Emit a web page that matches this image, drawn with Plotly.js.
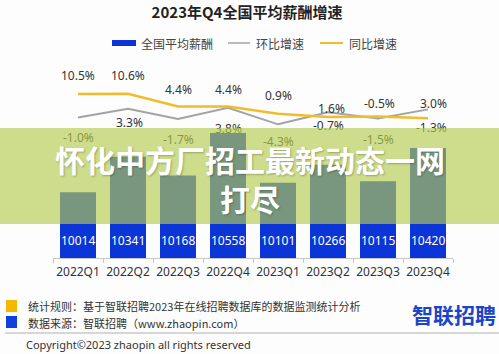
<!DOCTYPE html>
<html>
<head>
<meta charset="utf-8">
<script src="https://cdn.plot.ly/plotly-3.0.1.min.js"></script>
<style>html,body{margin:0;padding:0;background:#fdfdfd}#chart{width:499px;height:354px}</style>
</head>
<body>
<div id="chart"></div>
<script>
// ---- data ----
const categories = ['2022Q1','2022Q2','2022Q3','2022Q4','2023Q1','2023Q2','2023Q3','2023Q4'];
const salary = [10014, 10341, 10168, 10558, 10101, 10266, 10115, 10420];
const qoq = [-1.0, 3.3, -1.7, 3.8, -4.3, 1.6, -1.5, 3.0];   // 环比增速
const yoy = [10.5, 10.6, 4.4, 4.4, 0.9, -0.7, -0.5, -1.3];  // 同比增速
const seriesNames = ['全国平均薪酬', '环比增速', '同比增速'];
const titleText = '2023年Q4全国平均薪酬增速';
const overlayText = '怀化中方厂招工最新动态一网<br>打尽';
const footNote1 = '统计规则：基于智联招聘2023年在线招聘数据库的数据监测统计分析';
const footNote2 = '数据来源：智联招聘（www.zhaopin.com）';
const logoText = '智联招聘';
const copyrightText = 'Copyright©2023 zhaopin all rights reserved';

// ---- label placement styles (pixel shifts) ----
const yoyShift = [18, 18, 17, 17, 18, -9, 13, -9.5];
const yoyXShift = [0, 0, 0, 0, 0, 0, 1, 3];
const qoqShift = [-20, -13.5, -20, -20.5, -17.5, 4, -20.5, 6];
const qoqXShift = [0, 1, 0, 0, 0, 3, 0, 5];

const L = 53, T = 75, PW = 400, PH = 183;
const px = p => (p - L) / PW;
const py = p => (T + PH - p) / PH;

const numFont = "'Noto Sans', 'Noto Sans CJK SC', sans-serif";
const cjkFont = "'Noto Sans CJK SC', 'Noto Sans', sans-serif";
const fmt = v => v.toFixed(1) + '%';

const data = [
  {type: 'bar', x: categories, y: salary, name: seriesNames[0],
   marker: {color: '#0b35d6'}, hoverinfo: 'skip'},
  {type: 'scatter', mode: 'lines', x: categories, y: qoq, yaxis: 'y2', name: seriesNames[1],
   line: {color: '#a3a3a3', width: 2}, hoverinfo: 'skip'},
  {type: 'scatter', mode: 'lines', x: categories, y: yoy, yaxis: 'y2', name: seriesNames[2],
   line: {color: '#efbd2b', width: 2.5}, hoverinfo: 'skip'}
];

const annotations = [];
categories.forEach((c, i) => {
  annotations.push({x: c, y: yoy[i], xref: 'x', yref: 'y2', text: fmt(yoy[i]), showarrow: false,
    yanchor: 'middle', yshift: yoyShift[i], xshift: yoyXShift[i],
    font: {family: numFont, size: 12, color: '#333'}});
  annotations.push({x: c, y: qoq[i], xref: 'x', yref: 'y2', text: fmt(qoq[i]), showarrow: false,
    yanchor: 'middle', yshift: qoqShift[i], xshift: qoqXShift[i],
    font: {family: numFont, size: 12, color: '#333'}});
  annotations.push({x: c, y: 9411, xref: 'x', yref: 'y', text: String(salary[i]), showarrow: false,
    yanchor: 'bottom', yshift: 7, font: {family: numFont, size: 12, color: '#ffffff'}});
});
// translucent band
annotations.push({xref: 'paper', yref: 'paper', x: px(249.5), y: py(176), xanchor: 'center', yanchor: 'middle',
  width: 499, height: 96, text: ' ', showarrow: false, bgcolor: 'rgba(179,205,79,0.65)', borderpad: 0, borderwidth: 0});
// overlay headline
annotations.push({xref: 'paper', yref: 'paper', x: px(250), y: py(178), xanchor: 'center', yanchor: 'middle',
  text: overlayText, showarrow: false,
  font: {family: cjkFont, size: 30, color: '#ffffff', weight: 700, shadow: '1px 1px 2px rgba(0,0,0,0.25)'}});
// legend texts
[[seriesNames[0], 139], [seriesNames[1], 254], [seriesNames[2], 347]].forEach(([t, x]) => {
  annotations.push({xref: 'paper', yref: 'paper', x: px(x), y: py(43), xanchor: 'left', yanchor: 'middle',
    text: t, showarrow: false, font: {family: cjkFont, size: 12, color: '#444'}});
});
// footer
annotations.push({xref: 'paper', yref: 'paper', x: px(26), y: py(306), xanchor: 'left', yanchor: 'middle',
  text: footNote1, showarrow: false, font: {family: cjkFont, size: 11, color: '#333'}});
annotations.push({xref: 'paper', yref: 'paper', x: px(26), y: py(323), xanchor: 'left', yanchor: 'middle',
  text: footNote2, showarrow: false, font: {family: cjkFont, size: 11, color: '#333'}});
annotations.push({xref: 'paper', yref: 'paper', x: px(454), y: py(314), xanchor: 'center', yanchor: 'middle',
  text: logoText, showarrow: false, font: {family: cjkFont, size: 21, color: '#1b45c6', weight: 700}});
annotations.push({xref: 'paper', yref: 'paper', x: px(24), y: py(344), xanchor: 'left', yanchor: 'middle',
  text: copyrightText, showarrow: false, font: {family: numFont, size: 11, color: '#333'}});

const shapes = [
  {type: 'rect', xref: 'paper', yref: 'paper', x0: px(112), x1: px(136), y0: py(40), y1: py(46),
   fillcolor: '#0b35d6', line: {width: 0}},
  {type: 'line', xref: 'paper', yref: 'paper', x0: px(228), x1: px(250), y0: py(43), y1: py(43),
   line: {color: '#a3a3a3', width: 1.5}},
  {type: 'line', xref: 'paper', yref: 'paper', x0: px(320), x1: px(343), y0: py(43), y1: py(43),
   line: {color: '#efbd2b', width: 2}},
  {type: 'rect', xref: 'paper', yref: 'paper', x0: px(6), x1: px(17), y0: py(300), y1: py(312),
   fillcolor: '#f5b800', line: {width: 0}},
  {type: 'rect', xref: 'paper', yref: 'paper', x0: px(6), x1: px(17), y0: py(316), y1: py(328),
   fillcolor: '#1240e0', line: {width: 0}},
  {type: 'line', xref: 'paper', yref: 'paper', x0: px(5), x1: px(499), y0: py(333), y1: py(333),
   line: {color: '#b0b0b0', width: 1}}
];

const layout = {
  width: 499, height: 354,
  margin: {l: L, r: 499 - L - PW, t: T, b: 354 - T - PH, pad: 0},
  paper_bgcolor: '#fdfdfd', plot_bgcolor: 'rgba(0,0,0,0)',
  showlegend: false,
  bargap: 0.28,
  title: {text: titleText, x: 247 / 499, xanchor: 'center', xref: 'container', y: 1 - 13 / 354, yanchor: 'middle', yref: 'container',
    font: {family: cjkFont, size: 15, color: '#222', weight: 700}},
  xaxis: {type: 'category', range: [-0.5, 7.5], showline: true, linecolor: '#c8c8c8', linewidth: 1,
    ticks: 'outside', tickson: 'boundaries', ticklen: 4, tickcolor: '#c8c8c8', showgrid: false, zeroline: false,
    tickangle: 0, ticklabelstandoff: 3, tickfont: {family: numFont, size: 12, color: '#333'}, fixedrange: true},
  yaxis: {range: [9411, 11090], visible: false, showgrid: false, zeroline: false, fixedrange: true},
  yaxis2: {range: [-69.5, 19.76], overlaying: 'y', visible: false, showgrid: false, zeroline: false, fixedrange: true},
  annotations: annotations,
  shapes: shapes
};

Plotly.newPlot('chart', data, layout, {displayModeBar: false, staticPlot: true});
</script>
</body>
</html>
